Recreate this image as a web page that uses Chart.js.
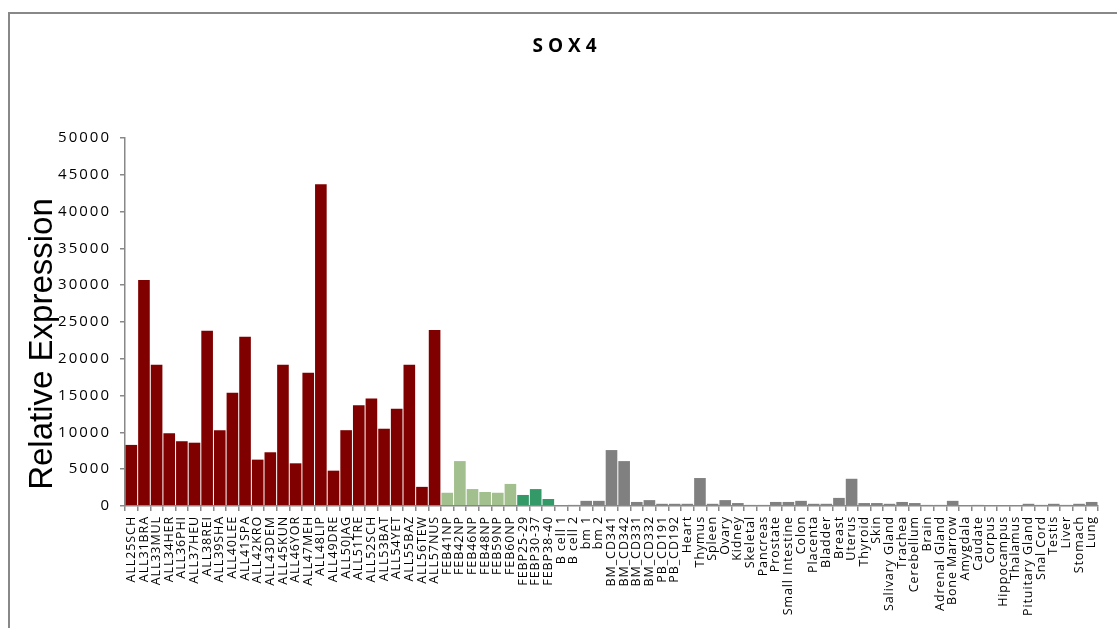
<!DOCTYPE html>
<html>
<head>
<meta charset="utf-8">
<title>SOX4</title>
<script src="https://cdn.jsdelivr.net/npm/chart.js@4.4.1/dist/chart.umd.min.js"></script>
<style>
  html, body { margin: 0; padding: 0; background: #fff; }
  #wrap { width: 1117px; height: 628px; }
</style>
</head>
<body>
<div id="wrap"><canvas id="chart" width="1117" height="628"></canvas></div>
<script>
// ALL patient samples
const allLabels = ['ALL25SCH', 'ALL31BRA', 'ALL33MUL', 'ALL34HER', 'ALL36PHI', 'ALL37HEU', 'ALL38REI',
  'ALL39SHA', 'ALL40LEE', 'ALL41SPA', 'ALL42KRO', 'ALL43DEM', 'ALL45KUN', 'ALL46YOR', 'ALL47MEH',
  'ALL48LIP', 'ALL49DRE', 'ALL50JAG', 'ALL51TRE', 'ALL52SCH', 'ALL53BAT', 'ALL54YET', 'ALL55BAZ',
  'ALL56TEW', 'ALL57NUS'];
const allValues = [8300, 30700, 19200, 9900, 8800, 8600, 23800, 10300, 15400, 23000, 6300, 7300,
  19200, 5800, 18100, 43700, 4800, 10300, 13700, 14600, 10500, 13200, 19200, 2600, 23900];

// fetal samples
const febLabels = ['FEB41NP', 'FEB42NP', 'FEB46NP', 'FEB48NP', 'FEB59NP', 'FEB60NP'];
const febValues = [1800, 6100, 2300, 1900, 1800, 3000];

const febpLabels = ['FEBP25-29', 'FEBP30-37', 'FEBP38-40'];
const febpValues = [1500, 2300, 950];

// normal cells and tissues
const tissueLabels = ['B cell 1', 'B cell 2', 'bm 1', 'bm 2', 'BM_CD341', 'BM_CD342', 'BM_CD331',
  'BM_CD332', 'PB_CD191', 'PB_CD192', 'Heart', 'Thymus', 'Spleen', 'Ovary', 'Kidney', 'Skeletal',
  'Pancreas', 'Prostate', 'Small Intestine', 'Colon', 'Placenta', 'Bladder', 'Breast', 'Uterus',
  'Thyroid', 'Skin', 'Salivary Gland', 'Trachea', 'Cerebellum', 'Brain', 'Adrenal Gland',
  'Bone Marrow', 'Amygdala', 'Caudate', 'Corpus', 'Hippocampus', 'Thalamus', 'Pituitary Gland',
  'Snal Cord', 'Testis', 'Liver', 'Stomach', 'Lung'];
const tissueValues = [50, 150, 700, 700, 7600, 6100, 550, 800, 300, 300, 300, 3800, 300, 800, 400,
  150, 150, 550, 550, 700, 300, 300, 1100, 3700, 400, 400, 300, 550, 400, 150, 150, 700, 100, 150,
  50, 50, 50, 300, 150, 300, 150, 300, 550];

const yTicks = { min: 0, max: 50000, step: 5000 };

const groupColors = ['#800000', '#a2bf8e', '#339966', '#808080'];

const labels = [...allLabels, ...febLabels, ...febpLabels, ...tissueLabels];
const values = [...allValues, ...febValues, ...febpValues, ...tissueValues];
const colors = [
  ...allLabels.map(() => groupColors[0]),
  ...febLabels.map(() => groupColors[1]),
  ...febpLabels.map(() => groupColors[2]),
  ...tissueLabels.map(() => groupColors[3])
];

// frame, title and y-axis caption, plus letter spacing for tick text
const decorations = {
  id: 'decorations',
  beforeDraw(chart) {
    const ctx = chart.ctx;
    ctx.save();
    ctx.fillStyle = '#fff';
    ctx.fillRect(0, 0, chart.width, chart.height);
    ctx.strokeStyle = '#888';
    ctx.lineWidth = 2;
    ctx.strokeRect(9, 13, chart.width + 20, chart.height + 20);
    ctx.restore();
    // y tick labels are drawn first, widely spaced
    ctx.letterSpacing = '2px';
  },
  afterDatasetsDraw(chart) {
    // x labels (ticks.z = 1) get drawn after the bars
    chart.ctx.letterSpacing = '0.9px';
  },
  afterDraw(chart) {
    const ctx = chart.ctx;
    ctx.save();
    ctx.letterSpacing = '5px';
    ctx.fillStyle = '#000';
    ctx.font = 'bold 19px "Open Sans"';
    ctx.textAlign = 'center';
    ctx.textBaseline = 'alphabetic';
    ctx.fillText('SOX4', 567, 52);

    ctx.letterSpacing = '0px';
    ctx.font = '33px "Liberation Sans"';
    ctx.translate(52, 344);
    ctx.rotate(-Math.PI / 2);
    ctx.fillText('Relative Expression', 0, 0);
    ctx.restore();
  }
};

new Chart(document.getElementById('chart'), {
  type: 'bar',
  data: {
    labels: labels,
    datasets: [{
      data: values,
      backgroundColor: colors,
      borderWidth: 0,
      barPercentage: 0.92,
      categoryPercentage: 1
    }]
  },
  options: {
    responsive: false,
    animation: false,
    layout: { padding: { left: 0, right: 19, top: 138, bottom: 0 } },
    plugins: {
      legend: { display: false },
      title: { display: false },
      tooltip: { enabled: false }
    },
    scales: {
      x: {
        offset: true,
        afterFit(scale) { scale.height = 122; },
        grid: {
          offset: true,
          drawOnChartArea: false,
          drawTicks: true,
          tickLength: 5,
          color: '#888',
          lineWidth: 1.5
        },
        border: { display: true, color: '#888', width: 1.5, z: 1 },
        ticks: {
          z: 1,
          autoSkip: false,
          minRotation: 90,
          maxRotation: 90,
          padding: 5,
          color: '#000',
          font: { family: '"Open Sans"', size: 12.5 }
        }
      },
      y: {
        min: yTicks.min,
        max: yTicks.max,
        afterFit(scale) { scale.width = 125; },
        grid: {
          drawOnChartArea: false,
          drawTicks: true,
          tickLength: 5,
          color: '#888',
          lineWidth: 1.5
        },
        border: { display: true, color: '#888', width: 1.5 },
        ticks: {
          z: 0,
          stepSize: yTicks.step,
          padding: 9,
          color: '#000',
          font: { family: '"Open Sans"', size: 15 },
          callback: v => String(v)
        }
      }
    }
  },
  plugins: [decorations]
});
</script>
</body>
</html>
